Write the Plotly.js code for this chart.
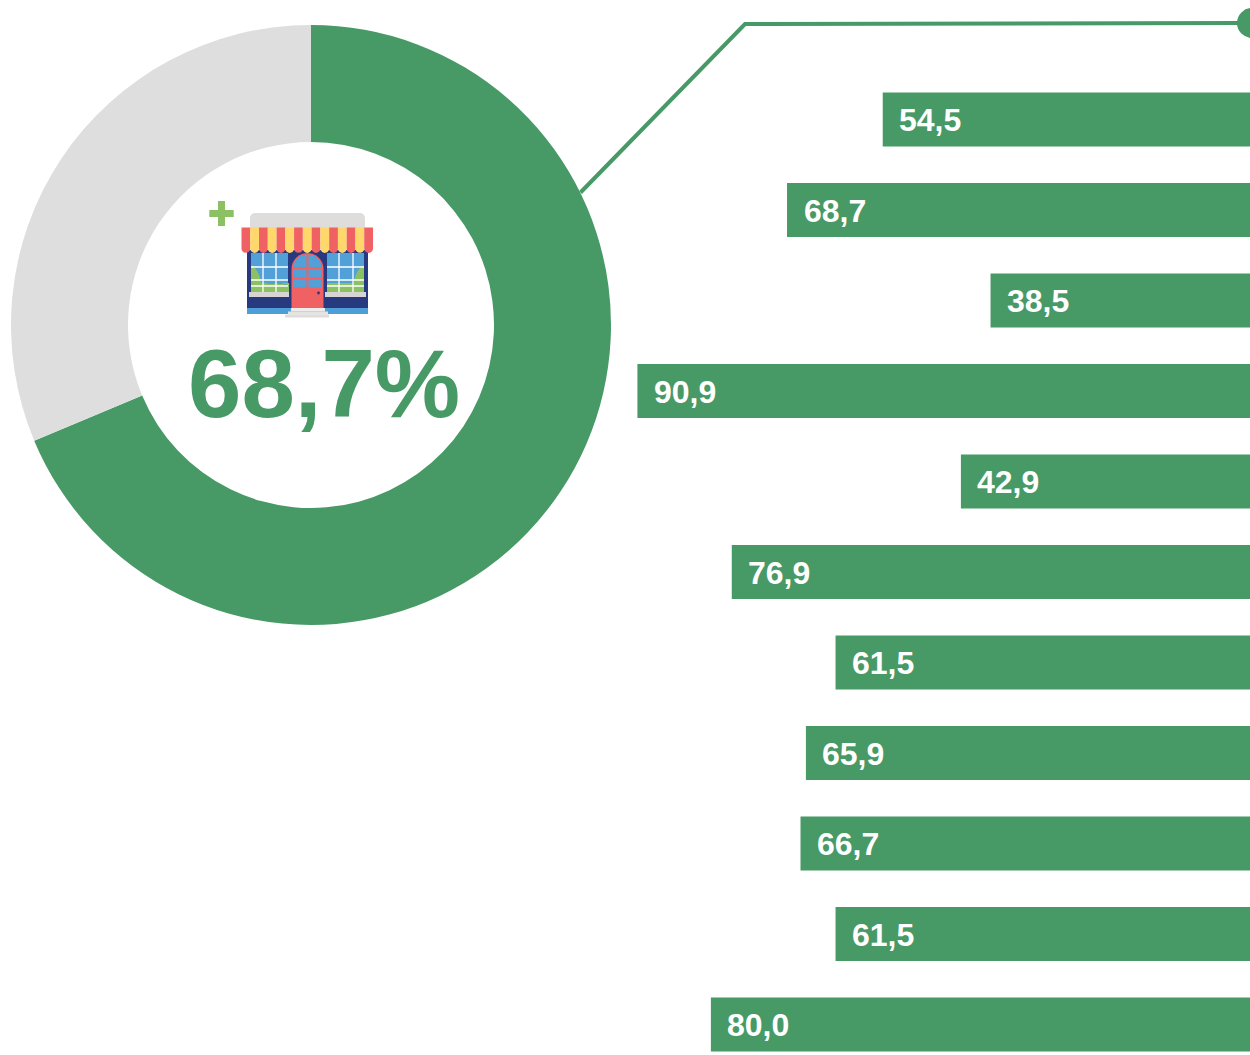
<!DOCTYPE html>
<html>
<head>
<meta charset="utf-8">
<script src="https://cdn.plot.ly/plotly-3.0.1.min.js"></script>
<style>html,body{margin:0;padding:0;background:#fff;overflow:hidden}#chart{width:1250px;height:1055px}</style>
</head>
<body>
<div id="chart"></div>
<script>
var barCategories = ["A","B","C","D","E","F","G","H","I","J","K"];
var barValues = [54.5,68.7,38.5,90.9,42.9,76.9,61.5,65.9,66.7,61.5,80.0];
var donutLabels = ["Yes","No"];
var donutValues = [68.7,31.3];
var headline = "68,7%";

var W = 1250, H = 1055;
var GREEN = "#479966", GREY = "#DEDEDE";
function px(x){return x/W;}
function py(y){return 1-y/H;}
function fmt(v){return v.toFixed(1).replace(".",",");}

var iconSvg = '<svg xmlns="http://www.w3.org/2000/svg" width="720" height="520" viewBox="200 195 180 130">'
 + '<path d="M218 201h7v9h8.700v7h-8.700v9h-7v-9h-8.700v-7h8.700z" fill="#8CC163"/>'
 + '<path d="M250 228v-10a5 5 0 0 1 5-5h105a5 5 0 0 1 5 5v10z" fill="#DEDDDB"/>'
 + '<rect x="247" y="250" width="121" height="58" fill="#27397F"/>'
 + '<rect x="247" y="308" width="121" height="6" fill="#4E9FD8"/>'
 + '<rect x="251" y="253" width="37" height="39" fill="#52A0D8"/>'
 + '<path d="M251 292v-27c4 2 9 8 10 18h28v9z" fill="#8CC163"/>'
 + '<path d="M262 284h26v-0.500l-3 1.500-4-3-5 2-5-2-5 2z" fill="#52A0D8"/>'
 + '<path d="M251 267h37M251 280h37M251 286h37M263 253v39M276 253v39" stroke="#fff" stroke-width="1.300"/>'
 + '<rect x="249" y="292" width="40" height="5" fill="#D6D5D3"/>'
 + '<rect x="327" y="253" width="37" height="39" fill="#52A0D8"/>'
 + '<path d="M364 292v-27c-4 2-9 8-10 18h-27v9z" fill="#8CC163"/>'
 + '<path d="M339 267h25M327 267h12M327 280h37M327 286h37M339 253v39M353 253v39" stroke="#fff" stroke-width="1.300"/>'
 + '<rect x="325" y="292" width="41" height="5" fill="#D6D5D3"/>'
 + '<path d="M291.500 308v-39a16 16 0 0 1 32 0v39z" fill="#EF6163"/>'
 + '<path d="M293.500 267a13 13 0 0 1 13-12.500v12.500zM308.500 254.500a13 13 0 0 1 13 12.500h-13zM293.500 269h13v8.500h-13zM308.500 269h13v8.500h-13zM293.500 279.500h13v8h-13zM308.500 279.500h13v8h-13z" fill="#52A0D8"/>'
 + '<circle cx="318.500" cy="293" r="1.400" fill="#27397F"/>'
 + '<rect x="291" y="308" width="34" height="3.500" fill="#EEEDEB"/>'
 + '<rect x="288" y="311.500" width="40" height="3" fill="#E4E3E1"/>'
 + '<rect x="285" y="314.500" width="44" height="3" fill="#DEDDDB"/>'
 + (function(){
     var s = '', cols = ["#EF6163","#FFD76A"], w = 131.500/15, x0 = 241.500;
     for (var i = 0; i < 15; i++) {
       var x = x0 + i*w;
       s += '<path d="M'+x+' 227.500h'+w+'v21a'+(w/2)+' '+(w/2)+' 0 0 1-'+w+' 0z" fill="'+cols[i%2]+'"/>';
     }
     return s;
   })()
 + '</svg>';

var donut = {
  type: "pie",
  labels: donutLabels,
  values: donutValues,
  sort: false,
  direction: "clockwise",
  rotation: 0,
  hole: 0.61,
  marker: {colors: [GREEN, GREY], line: {width: 0}},
  textinfo: "none",
  hoverinfo: "none",
  showlegend: false,
  domain: {x: [px(11), px(611)], y: [py(625), py(25)]}
};

var bars = {
  type: "bar",
  orientation: "h",
  x: barValues,
  y: barCategories,
  marker: {color: GREEN, line: {width: 0}},
  hoverinfo: "none",
  showlegend: false
};

var labels = barValues.map(function(v, i){
  return {
    xref: "x", yref: "y", x: v, y: barCategories[i],
    text: fmt(v), showarrow: false,
    xanchor: "left", yanchor: "middle", xshift: 14.5, yshift: -0.5,
    font: {family: "Liberation Sans, Arial, sans-serif", size: 32, color: "#fff", weight: 700}
  };
});
labels.push({
  xref: "paper", yref: "paper", x: px(324), y: py(383),
  text: "<b>" + headline + "</b>", showarrow: false,
  xanchor: "center", yanchor: "middle",
  font: {family: "Liberation Sans, Arial, sans-serif", size: 96, color: GREEN}
});

var layout = {
  width: W, height: H,
  margin: {l: 0, r: 0, t: 0, b: 0, pad: 0},
  paper_bgcolor: "#fff",
  plot_bgcolor: "rgba(0,0,0,0)",
  bargap: 0.403,
  xaxis: {range: [W/6.739, 0], visible: false, fixedrange: true},
  yaxis: {type: "category", categoryorder: "array", categoryarray: barCategories,
          range: [(H-119.5)/90.5, -119.5/90.5], visible: false, fixedrange: true},
  annotations: labels,
  shapes: [
    {type: "path", xref: "paper", yref: "paper",
     path: "M " + px(580.5) + " " + py(192.5) + " L " + px(745) + " " + py(24) + " L " + px(1240) + " " + py(23),
     line: {color: GREEN, width: 4}},
    {type: "circle", xref: "paper", yref: "paper",
     x0: px(1237), x1: px(1267), y0: py(38), y1: py(8),
     fillcolor: GREEN, line: {width: 0}}
  ],
  images: [{
    source: "data:image/svg+xml;charset=utf-8," + encodeURIComponent(iconSvg),
    xref: "paper", yref: "paper", x: px(200), y: py(195),
    sizex: 180/W, sizey: 130/H, xanchor: "left", yanchor: "top",
    sizing: "stretch", layer: "above"
  }]
};

Plotly.newPlot("chart", [donut, bars], layout, {displayModeBar: false, staticPlot: true});
</script>
</body>
</html>
